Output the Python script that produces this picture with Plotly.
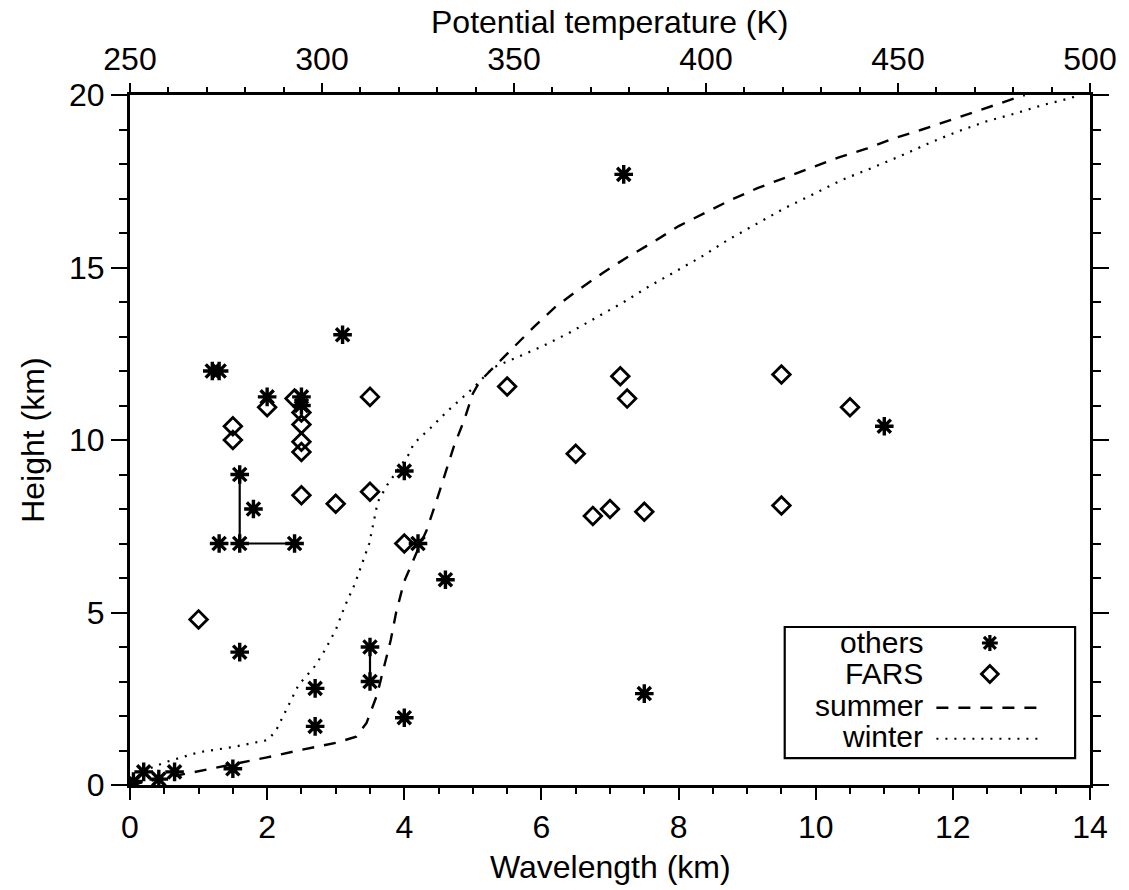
import plotly.graph_objects as go

# ---------------- data ----------------
others_wl = [0.05, 0.2, 0.42, 0.65, 1.5, 1.2, 1.3, 2.0, 2.5, 2.5, 3.1, 1.6, 1.8, 1.3, 1.6, 2.4,
             4.0, 4.2, 4.6, 1.6, 3.5, 3.5, 2.7, 2.7, 4.0, 7.5, 7.2, 11.0]
others_h = [0.1, 0.38, 0.17, 0.38, 0.47, 12.0, 12.0, 11.25, 11.25, 11.0, 13.05, 9.0, 8.0, 7.0, 7.0, 7.0,
            9.1, 7.0, 5.95, 3.85, 4.0, 3.0, 2.8, 1.7, 1.95, 2.65, 17.7, 10.4]

fars_wl = [1.5, 1.5, 2.0, 2.4, 2.5, 2.5, 2.5, 2.5, 3.5, 2.5, 3.0, 3.5, 4.0, 1.0, 5.5, 7.15, 7.25,
           6.5, 9.5, 10.5, 6.75, 7.0, 7.5, 9.5]
fars_h = [10.4, 10.0, 10.95, 11.2, 10.8, 10.45, 9.95, 9.65, 11.25, 8.4, 8.15, 8.5, 7.0, 4.8, 11.55,
          11.85, 11.2, 9.6, 11.9, 10.95, 7.8, 8.0, 7.92, 8.1]

# connecting bars between some "others" points
range_wl = [1.6, 1.6, None, 1.6, 2.4, None, 3.5, 3.5]
range_h = [7.0, 9.0, None, 7.0, 7.0, None, 3.0, 4.0]

# potential temperature profiles (K) vs height (km)
summer_theta = [250.0, 258.9, 267.9, 276.8, 285.7, 294.6, 303.6, 308.9, 311.6, 314.3,
                316.1, 317.9, 319.3, 321.4, 324.5, 327.3, 330.0, 332.1, 334.3, 337.1,
                339.3, 341.1, 344.6, 350.0, 355.4, 360.7, 366.1, 373.2, 379.5, 385.7,
                392.9, 400.0, 406.3, 413.4, 420.5, 427.7, 434.8, 442.0, 449.1, 456.3,
                464.3, 471.4, 479.5, 483.0]
summer_h = [0, 0.2, 0.4, 0.58, 0.8, 1.02, 1.22, 1.4, 1.8, 2.6,
            3.4, 4.2, 5.0, 5.9, 6.7, 7.4, 8.3, 9.0, 9.8, 10.6,
            11.35, 11.7, 12.1, 12.7, 13.3, 13.85, 14.3, 14.85, 15.3, 15.7,
            16.2, 16.6, 16.95, 17.3, 17.6, 17.9, 18.2, 18.45, 18.75, 19.0,
            19.3, 19.55, 19.85, 20.0]

winter_theta = [250.0, 254.5, 258.9, 267.9, 276.8, 285.7, 287.9, 290.4, 293.9, 298.2,
                300.7, 303.6, 305.9, 308.6, 310.7, 312.3, 313.6, 314.5, 317.0, 322.7,
                323.9, 328.2, 332.5, 337.0, 339.3, 344.6, 350.0, 357.1, 364.3, 372.3,
                378.6, 385.0, 392.0, 398.8, 405.7, 412.7, 420.5, 427.5, 435.4, 442.9,
                450.2, 458.0, 465.5, 472.9, 480.7, 487.7, 494.6, 497.3]
winter_h = [0, 0.45, 0.65, 0.95, 1.1, 1.3, 1.55, 2.1, 2.9, 3.45,
            3.9, 4.5, 5.17, 5.84, 6.47, 7.0, 7.7, 8.2, 8.7, 9.6,
            9.9, 10.34, 10.82, 11.26, 11.5, 12.1, 12.35, 12.7, 13.1, 13.6,
            14.0, 14.44, 14.88, 15.31, 15.8, 16.23, 16.72, 17.1, 17.54, 17.87,
            18.21, 18.6, 18.94, 19.23, 19.47, 19.71, 19.9, 20.0]

legend_labels = ["others", "FARS", "summer", "winter"]

# ---------------- figure ----------------
FONT = "Liberation Sans, Arial, Helvetica, sans-serif"
FS = 32
LFS = 30
fig = go.Figure()

fig.add_trace(go.Scatter(x=summer_theta, y=summer_h, xaxis="x2", yaxis="y", mode="lines",
                         line=dict(color="black", width=2.4, dash="12px,10px"), showlegend=False))
fig.add_trace(go.Scatter(x=winter_theta, y=winter_h, xaxis="x2", yaxis="y", mode="lines",
                         line=dict(color="black", width=2.2, dash="2px,7px"), showlegend=False))
fig.add_trace(go.Scatter(x=range_wl, y=range_h, mode="lines",
                         line=dict(color="black", width=2.2), showlegend=False))
fig.add_trace(go.Scatter(x=fars_wl, y=fars_h, mode="markers",
                         marker=dict(symbol="diamond-open", size=13.5, color="black",
                                     line=dict(width=2.8, color="black")), showlegend=False))
fig.add_trace(go.Scatter(x=others_wl, y=others_h, mode="markers",
                         marker=dict(symbol="asterisk-open", size=15.5, color="black",
                                     line=dict(width=3.4, color="black")), showlegend=False))

# ---------------- custom legend ----------------
PW, PH = 968.0, 690.0
shapes = []
annotations = []
shapes.append(dict(type="rect", xref="paper", yref="paper", x0=0.682, x1=0.9845, y0=0.039, y1=0.229,
                   line=dict(color="black", width=2.2), fillcolor="rgba(0,0,0,0)"))
row_y = [0.2058, 0.1609, 0.1159, 0.0710]
for lab, yy in zip(legend_labels, row_y):
    annotations.append(dict(xref="paper", yref="paper", x=0.827, y=yy, text=lab, showarrow=False,
                            xanchor="right", yanchor="middle", borderpad=0,
                            font=dict(family=FONT, size=LFS, color="black")))
# asterisk symbol
cx, cy = 0.8957, row_y[0]
ax_, ay_ = 8.0 / PW, 8.0 / PH
bx_, by_ = 6.0 / PW, 6.0 / PH
path = (f"M{cx-ax_},{cy} L{cx+ax_},{cy} M{cx},{cy-ay_} L{cx},{cy+ay_} "
        f"M{cx-bx_},{cy-by_} L{cx+bx_},{cy+by_} M{cx-bx_},{cy+by_} L{cx+bx_},{cy-by_}")
shapes.append(dict(type="path", xref="paper", yref="paper", path=path, line=dict(color="black", width=3.2)))
# diamond symbol
cx, cy = 0.8957, row_y[1]
dx_, dy_ = 8.5 / PW, 8.5 / PH
path = f"M{cx-dx_},{cy} L{cx},{cy+dy_} L{cx+dx_},{cy} L{cx},{cy-dy_} Z"
shapes.append(dict(type="path", xref="paper", yref="paper", path=path, line=dict(color="black", width=2.8)))
shapes.append(dict(type="line", xref="paper", yref="paper", x0=0.840, x1=0.947, y0=row_y[2] - 0.004,
                   y1=row_y[2] - 0.004, line=dict(color="black", width=2.4, dash="12px,10px")))
shapes.append(dict(type="line", xref="paper", yref="paper", x0=0.840, x1=0.952, y0=row_y[3] - 0.004,
                   y1=row_y[3] - 0.004, line=dict(color="black", width=2.2, dash="2px,7px")))

# axis titles as annotations for exact placement
tfont = dict(family=FONT, size=FS, color="black")
annotations.append(dict(xref="paper", yref="paper", x=0.5, y=(785 - 22) / PH, text="Potential temperature (K)",
                        showarrow=False, xanchor="center", yanchor="middle", font=tfont))
annotations.append(dict(xref="paper", yref="paper", x=0.5, y=(785 - 867) / PH, text="Wavelength (km)",
                        showarrow=False, xanchor="center", yanchor="middle", font=tfont))
annotations.append(dict(xref="paper", yref="paper", x=(32 - 130) / PW, y=(785 - 440) / PH, text="Height (km)",
                        showarrow=False, xanchor="center", yanchor="middle", textangle=-90, font=tfont))

axis_common = dict(showgrid=False, zeroline=False, showline=True, linecolor="black", linewidth=3,
                   ticks="outside", tickcolor="black", tickwidth=2.2,
                   tickfont=dict(family=FONT, size=FS, color="black"))

fig.update_layout(
    width=1129, height=890,
    margin=dict(l=130, r=31, t=95, b=105),
    paper_bgcolor="white", plot_bgcolor="white",
    showlegend=False,
    shapes=shapes, annotations=annotations,
    xaxis=dict(range=[0, 14], tickmode="linear", tick0=0, dtick=2, ticklen=12, ticklabelstandoff=0,
               minor=dict(dtick=0.5, ticklen=6, tickwidth=2, tickcolor="black", ticks="outside"),
               anchor="y", **axis_common),
    xaxis2=dict(range=[250, 500], tickmode="linear", tick0=250, dtick=50, ticklen=9,
                minor=dict(dtick=10, ticklen=5, tickwidth=2, tickcolor="black", ticks="outside"),
                overlaying="x", side="top", anchor="y", **axis_common),
    yaxis=dict(range=[0, 20], tickmode="linear", tick0=0, dtick=5, ticklen=16, mirror="ticks",
               minor=dict(dtick=1, ticklen=8, tickwidth=2, tickcolor="black", ticks="outside"),
               **axis_common),
)

fig.write_html("out.html")
